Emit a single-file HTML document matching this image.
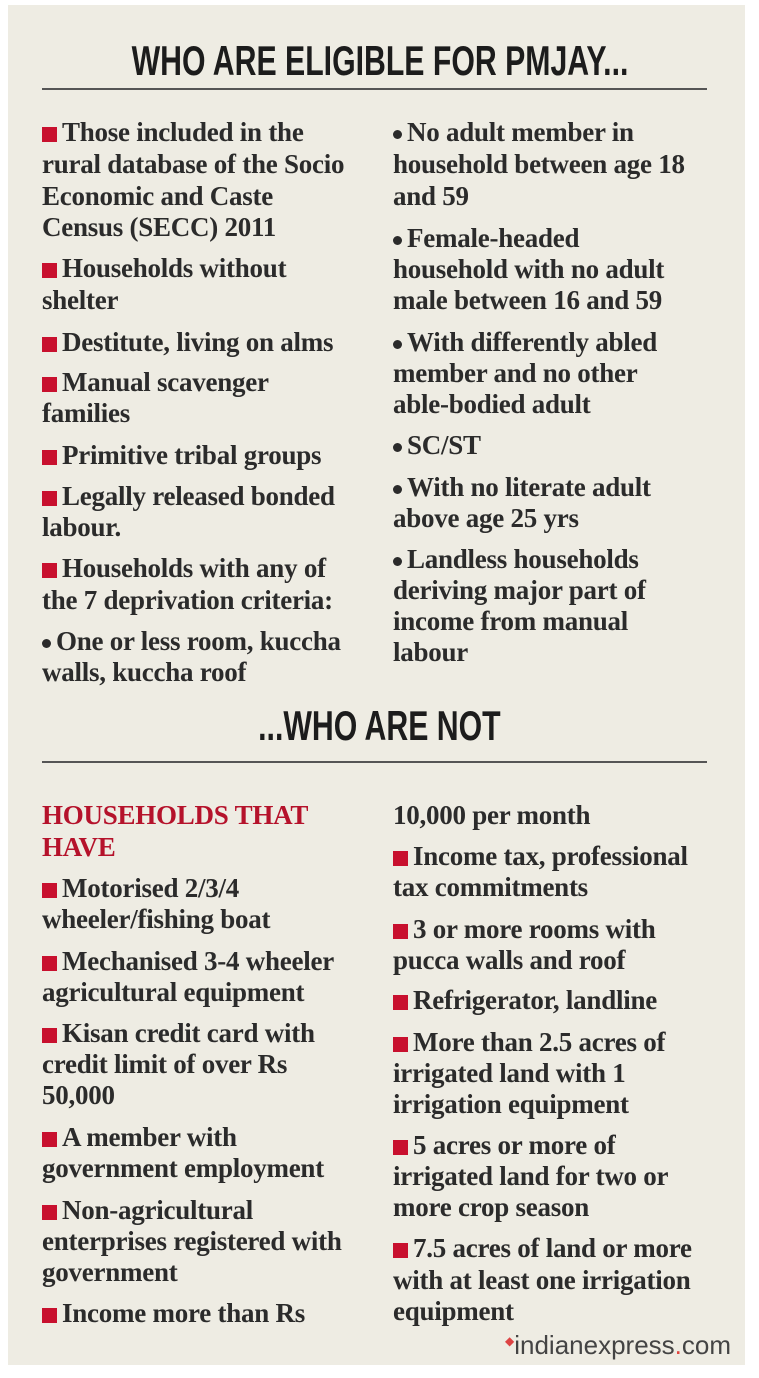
<!DOCTYPE html>
<html><head><meta charset="utf-8"><style>
html,body{margin:0;padding:0;background:#fff;}
#p{position:relative;width:759px;height:1378px;overflow:hidden;background:#fff;}
#bg{position:absolute;left:8px;top:5px;width:737px;height:1360px;background:#eeece3;}
.l{position:absolute;white-space:nowrap;font-family:"Liberation Serif",serif;font-weight:bold;font-size:27px;line-height:30px;color:#2b2b2b;letter-spacing:-0.25px;}
.sq{display:inline-block;width:15px;height:15px;background:#c8102e;margin-right:5px;vertical-align:-1px;}
.dot{display:inline-block;width:9px;height:9px;border-radius:50%;background:#2b2b2b;margin-right:5px;vertical-align:2px;}
.t{position:absolute;left:0;width:759px;text-align:center;font-family:"Liberation Sans Narrow","Liberation Sans",sans-serif;font-weight:bold;color:#1c1c1c;}
.t span{display:inline-block;transform:scaleX(0.72);transform-origin:center;}
.hr{position:absolute;left:42px;width:665px;height:2px;background:#555;}
.red{color:#b5122b;}
</style></head><body><div id="p"><div id="bg"></div>
<div class="t" style="top:37px;font-size:42px;line-height:48px;"><span>WHO ARE ELIGIBLE FOR PMJAY...</span></div>
<div class="hr" style="top:88px"></div>
<div class="t" style="top:702px;font-size:42px;line-height:48px;"><span>...WHO ARE NOT</span></div>
<div class="hr" style="top:761px"></div>

<div class="l" style="left:42px;top:117px"><i class="sq"></i>Those included in the</div>
<div class="l" style="left:42px;top:149px">rural database of the Socio</div>
<div class="l" style="left:42px;top:181px">Economic and Caste</div>
<div class="l" style="left:42px;top:212px">Census (SECC) 2011</div>
<div class="l" style="left:42px;top:253px"><i class="sq"></i>Households without</div>
<div class="l" style="left:42px;top:285px">shelter</div>
<div class="l" style="left:42px;top:327px"><i class="sq"></i>Destitute, living on alms</div>
<div class="l" style="left:42px;top:367px"><i class="sq"></i>Manual scavenger</div>
<div class="l" style="left:42px;top:398px">families</div>
<div class="l" style="left:42px;top:440px"><i class="sq"></i>Primitive tribal groups</div>
<div class="l" style="left:42px;top:481px"><i class="sq"></i>Legally released bonded</div>
<div class="l" style="left:42px;top:512px">labour.</div>
<div class="l" style="left:42px;top:553px"><i class="sq"></i>Households with any of</div>
<div class="l" style="left:42px;top:585px">the 7 deprivation criteria:</div>
<div class="l" style="left:42px;top:626px"><i class="dot"></i>One or less room, kuccha</div>
<div class="l" style="left:42px;top:657px">walls, kuccha roof</div>

<div class="l" style="left:393px;top:117px"><i class="dot"></i>No adult member in</div>
<div class="l" style="left:393px;top:149px">household between age 18</div>
<div class="l" style="left:393px;top:181px">and 59</div>
<div class="l" style="left:393px;top:223px"><i class="dot"></i>Female-headed</div>
<div class="l" style="left:393px;top:254px">household with no adult</div>
<div class="l" style="left:393px;top:285px">male between 16 and 59</div>
<div class="l" style="left:393px;top:327px"><i class="dot"></i>With differently abled</div>
<div class="l" style="left:393px;top:358px">member and no other</div>
<div class="l" style="left:393px;top:389px">able-bodied adult</div>
<div class="l" style="left:393px;top:430px"><i class="dot"></i>SC/ST</div>
<div class="l" style="left:393px;top:472px"><i class="dot"></i>With no literate adult</div>
<div class="l" style="left:393px;top:503px">above age 25 yrs</div>
<div class="l" style="left:393px;top:544px"><i class="dot"></i>Landless households</div>
<div class="l" style="left:393px;top:575px">deriving major part of</div>
<div class="l" style="left:393px;top:606px">income from manual</div>
<div class="l" style="left:393px;top:637px">labour</div>

<div class="l red" style="left:42px;top:800px">HOUSEHOLDS THAT</div>
<div class="l red" style="left:42px;top:832px">HAVE</div>
<div class="l" style="left:42px;top:873px"><i class="sq"></i>Motorised 2/3/4</div>
<div class="l" style="left:42px;top:904px">wheeler/fishing boat</div>
<div class="l" style="left:42px;top:946px"><i class="sq"></i>Mechanised 3-4 wheeler</div>
<div class="l" style="left:42px;top:977px">agricultural equipment</div>
<div class="l" style="left:42px;top:1018px"><i class="sq"></i>Kisan credit card with</div>
<div class="l" style="left:42px;top:1049px">credit limit of over Rs</div>
<div class="l" style="left:42px;top:1080px">50,000</div>
<div class="l" style="left:42px;top:1122px"><i class="sq"></i>A member with</div>
<div class="l" style="left:42px;top:1153px">government employment</div>
<div class="l" style="left:42px;top:1195px"><i class="sq"></i>Non-agricultural</div>
<div class="l" style="left:42px;top:1226px">enterprises registered with</div>
<div class="l" style="left:42px;top:1257px">government</div>
<div class="l" style="left:42px;top:1298px"><i class="sq"></i>Income more than Rs</div>

<div class="l" style="left:393px;top:800px">10,000 per month</div>
<div class="l" style="left:393px;top:841px"><i class="sq"></i>Income tax, professional</div>
<div class="l" style="left:393px;top:872px">tax commitments</div>
<div class="l" style="left:393px;top:914px"><i class="sq"></i>3 or more rooms with</div>
<div class="l" style="left:393px;top:945px">pucca walls and roof</div>
<div class="l" style="left:393px;top:985px"><i class="sq"></i>Refrigerator, landline</div>
<div class="l" style="left:393px;top:1027px"><i class="sq"></i>More than 2.5 acres of</div>
<div class="l" style="left:393px;top:1058px">irrigated land with 1</div>
<div class="l" style="left:393px;top:1089px">irrigation equipment</div>
<div class="l" style="left:393px;top:1130px"><i class="sq"></i>5 acres or more of</div>
<div class="l" style="left:393px;top:1161px">irrigated land for two or</div>
<div class="l" style="left:393px;top:1192px">more crop season</div>
<div class="l" style="left:393px;top:1233px"><i class="sq"></i>7.5 acres of land or more</div>
<div class="l" style="left:393px;top:1265px">with at least one irrigation</div>
<div class="l" style="left:393px;top:1296px">equipment</div>

<div style="position:absolute;left:505px;top:1326px;font-family:'Liberation Sans Narrow','Liberation Sans',sans-serif;font-size:26px;line-height:30px;color:#444;white-space:nowrap;"><span style="color:#d44;font-size:12px;vertical-align:9px">◆</span>indianexpress<span style="color:#e0443e">.</span>com</div>
</div></body></html>
